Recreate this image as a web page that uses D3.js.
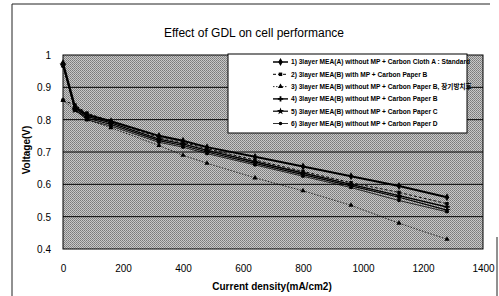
<!DOCTYPE html>
<html><head><meta charset="utf-8">
<script src="https://cdn.jsdelivr.net/npm/d3@7"></script>
<style>body{margin:0;background:#fff}svg{display:block}</style>
</head><body>
<script>
const xValues = [0, 40, 80, 160, 320, 400, 480, 640, 800, 960, 1120, 1280];
const s1 = [0.975, 0.84, 0.815, 0.795, 0.75, 0.735, 0.715, 0.685, 0.655, 0.625, 0.595, 0.56];
const s2 = [0.86, 0.845, 0.82, 0.795, 0.745, 0.73, 0.71, 0.675, 0.64, 0.605, 0.575, 0.54];
const s3 = [0.86, 0.83, 0.80, 0.775, 0.72, 0.69, 0.665, 0.62, 0.58, 0.535, 0.48, 0.43];
const s4 = [0.97, 0.835, 0.81, 0.79, 0.74, 0.725, 0.705, 0.67, 0.635, 0.60, 0.565, 0.53];
const s5 = [0.97, 0.83, 0.805, 0.785, 0.735, 0.72, 0.70, 0.665, 0.63, 0.595, 0.56, 0.52];
const s6 = [0.965, 0.83, 0.80, 0.78, 0.73, 0.715, 0.695, 0.66, 0.625, 0.59, 0.55, 0.515];
const seriesNames = [
  "1) 3layer MEA(A) without MP + Carbon Cloth A : Standard",
  "2) 3layer MEA(B) with MP + Carbon Paper B",
  "3) 3layer MEA(B) without MP + Carbon Paper B, 장기방치후",
  "4) 3layer MEA(B) without MP + Carbon Paper B",
  "5) 3layer MEA(B) without MP + Carbon Paper C",
  "6) 3layer MEA(B) without MP + Carbon Paper D"
];
const xTicks = [0, 200, 400, 600, 800, 1000, 1200, 1400];
const yTicks = [0.4, 0.5, 0.6, 0.7, 0.8, 0.9, 1];
const title = "Effect of GDL on cell performance";
const xTitle = "Current density(mA/cm2)";
const yTitle = "Voltage(V)";

const allSeries = [s1, s2, s3, s4, s5, s6];
const styles = [
  {w: 2, dash: null, sym: d3.symbolDiamond, size: 18},
  {w: 1, dash: "3,2", sym: d3.symbolSquare, size: 12},
  {w: 0.8, dash: "1.5,1.5", sym: d3.symbolTriangle, size: 12},
  {w: 1.4, dash: null, sym: d3.symbolCross, size: 16},
  {w: 1.2, dash: null, sym: d3.symbolStar, size: 16},
  {w: 0.8, dash: null, sym: d3.symbolCircle, size: 10}
];

const W = 499, H = 296;
const svg = d3.select("body").append("svg").attr("width", W).attr("height", H)
  .style("font-family", "'Liberation Sans', Arial, 'Noto Sans CJK KR', sans-serif");

// frame
svg.append("path").attr("d", "M12,296 L12,4 L490,4").attr("fill", "none").attr("stroke", "#222").attr("stroke-width", 1);
svg.append("path").attr("d", "M497,237 L497,296").attr("fill", "none").attr("stroke", "#222").attr("stroke-width", 1);

const x = d3.scaleLinear().domain([0, 1400]).range([63, 483]);
const y = d3.scaleLinear().domain([0.4, 1]).range([249, 55]);

// halftone-like background pattern
const defs = svg.append("defs");
const pat = defs.append("pattern").attr("id", "ht").attr("width", 2).attr("height", 2).attr("patternUnits", "userSpaceOnUse");
pat.append("rect").attr("width", 2).attr("height", 2).attr("fill", "#c8c8c8");
pat.append("rect").attr("width", 1).attr("height", 1).attr("fill", "#7a7a7a");
pat.append("rect").attr("x", 1).attr("y", 1).attr("width", 1).attr("height", 1).attr("fill", "#8a8a8a");

svg.append("rect").attr("x", x(0)).attr("y", y(1)).attr("width", x(1400) - x(0)).attr("height", y(0.4) - y(1))
  .attr("fill", "url(#ht)").attr("stroke", "#000").attr("stroke-width", 1);

// gridlines
svg.append("g").selectAll("line").data(yTicks.filter(t => t > 0.4 && t < 1)).join("line")
  .attr("x1", x(0)).attr("x2", x(1400)).attr("y1", d => y(d)).attr("y2", d => y(d))
  .attr("stroke", "#000").attr("stroke-width", 1);

// axes
const yAxis = svg.append("g").attr("transform", `translate(${x(0) - 9},0)`)
  .call(d3.axisLeft(y).tickValues(yTicks).tickSize(0).tickFormat(d => String(d)));
yAxis.select(".domain").remove();
yAxis.selectAll("text").attr("font-size", 10).attr("fill", "#000").attr("dy", "0.35em");

const xAxis = svg.append("g").attr("transform", `translate(0,${y(0.4) + 13})`)
  .call(d3.axisBottom(x).tickValues(xTicks).tickSize(0).tickFormat(d => String(d)));
xAxis.select(".domain").remove();
xAxis.selectAll("text").attr("font-size", 10).attr("fill", "#000");

// titles
svg.append("text").attr("x", 254).attr("y", 37).attr("text-anchor", "middle")
  .attr("font-size", 12).attr("fill", "#000").text(title);
svg.append("text").attr("x", 272).attr("y", 290).attr("text-anchor", "middle")
  .attr("font-size", 10).attr("font-weight", "bold").attr("fill", "#000").text(xTitle);
svg.append("text").attr("transform", `translate(30,150) rotate(-90)`).attr("text-anchor", "middle")
  .attr("font-size", 10).attr("font-weight", "bold").attr("fill", "#000").text(yTitle);

// series
const line = d3.line().x((d, i) => x(xValues[i])).y(d => y(d));
allSeries.forEach((s, k) => {
  const st = styles[k];
  svg.append("path").datum(s).attr("d", line).attr("fill", "none").attr("stroke", "#000")
    .attr("stroke-width", st.w).attr("stroke-dasharray", st.dash);
  svg.append("g").selectAll("path").data(s).join("path")
    .attr("transform", (d, i) => `translate(${x(xValues[i])},${y(d)})`)
    .attr("d", d3.symbol().type(st.sym).size(st.size)).attr("fill", "#000");
});

// legend
const lg = svg.append("g");
lg.append("rect").attr("x", 228).attr("y", 54).attr("width", 239).attr("height", 79)
  .attr("fill", "#fff").attr("stroke", "#000").attr("stroke-width", 1);
seriesNames.forEach((n, k) => {
  const st = styles[k];
  const yy = 62 + k * 12.3;
  lg.append("line").attr("x1", 273).attr("x2", 288).attr("y1", yy).attr("y2", yy)
    .attr("stroke", "#000").attr("stroke-width", Math.min(st.w, 1.5)).attr("stroke-dasharray", st.dash);
  lg.append("path").attr("transform", `translate(280.5,${yy})`)
    .attr("d", d3.symbol().type(st.sym).size(st.size)).attr("fill", "#000");
  lg.append("text").attr("x", 291).attr("y", yy + 2.3).attr("font-size", 6.6).attr("font-weight", "bold")
    .attr("fill", "#000").text(n);
});
</script>
</body></html>
